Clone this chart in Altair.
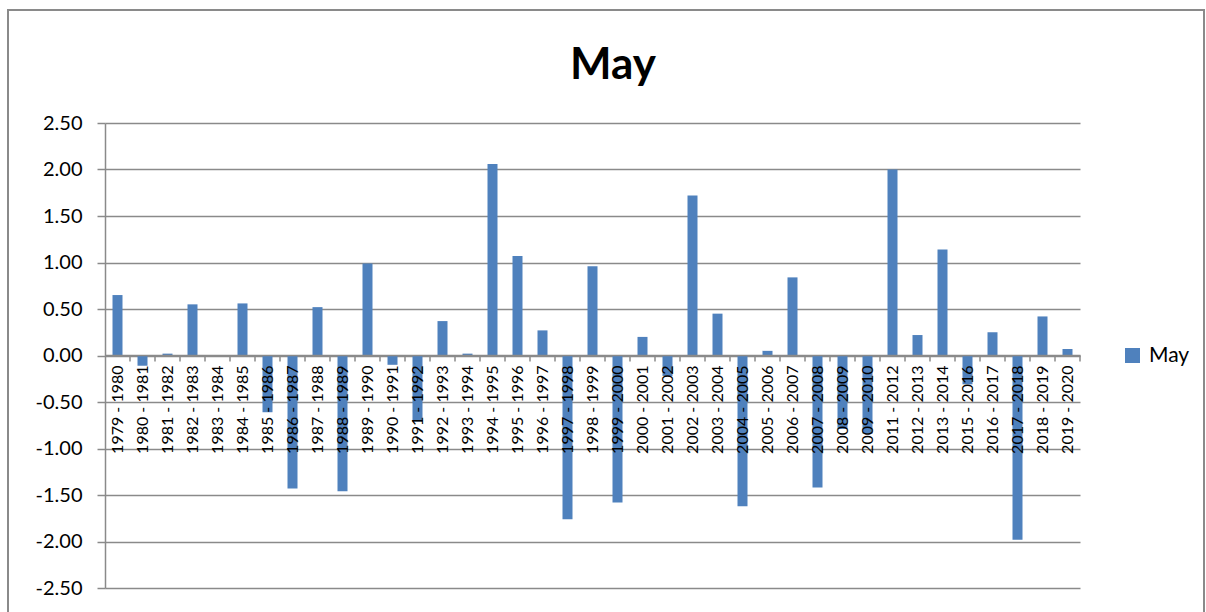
import altair as alt
import pandas as pd

# Season labels (2010-2011 and 2014-2015 are absent from the series)
periods = [
    "1979 - 1980", "1980 - 1981", "1981 - 1982", "1982 - 1983", "1983 - 1984",
    "1984 - 1985", "1985 - 1986", "1986 - 1987", "1987 - 1988", "1988 - 1989",
    "1989 - 1990", "1990 - 1991", "1991 - 1992", "1992 - 1993", "1993 - 1994",
    "1994 - 1995", "1995 - 1996", "1996 - 1997", "1997 - 1998", "1998 - 1999",
    "1999 - 2000", "2000 - 2001", "2001 - 2002", "2002 - 2003", "2003 - 2004",
    "2004 - 2005", "2005 - 2006", "2006 - 2007", "2007 - 2008", "2008 - 2009",
    "2009 - 2010", "2011 - 2012", "2012 - 2013", "2013 - 2014", "2015 - 2016",
    "2016 - 2017", "2017 - 2018", "2018 - 2019", "2019 - 2020",
]

may_values = [
    0.65, -0.11, 0.02, 0.55, 0.00,
    0.56, -0.61, -1.43, 0.52, -1.46,
    0.99, -0.10, -0.71, 0.37, 0.02,
    2.06, 1.07, 0.27, -1.76, 0.96,
    -1.58, 0.20, -0.22, 1.72, 0.45,
    -1.62, 0.05, 0.84, -1.42, -0.79,
    -0.84, 2.00, 0.22, 1.14, -0.31,
    0.25, -1.98, 0.42, 0.07,
]

y_ticks = [-2.5, -2.0, -1.5, -1.0, -0.5, 0.0, 0.5, 1.0, 1.5, 2.0, 2.5]

chart_title = ["May"]

df = pd.DataFrame({"period": periods, "value": may_values, "series": "May"})
title_df = pd.DataFrame({"title": chart_title})

FONT = "Lato"
GRID = "#8a8a8a"
BLUE = "#4f81bd"

x_enc = alt.X(
    "period:N",
    sort=periods,
    scale=alt.Scale(paddingInner=0, paddingOuter=0),
    axis=alt.Axis(
        title=None,
        labelAngle=270,
        labelFont=FONT,
        labelFontSize=16,
        labelColor="black",
        labelPadding=10,
        labelOverlap=False,
        labelBound=False,
        ticks=False,
        domainColor=GRID,
        domainWidth=1.5,
        offset=-233,
        zindex=1,
    ),
)

y_scale = alt.Scale(domain=[-2.5, 2.5], nice=False, zero=False)

bars = alt.Chart(df).mark_bar(size=10).encode(
    x=x_enc,
    y=alt.Y(
        "value:Q",
        scale=y_scale,
        axis=alt.Axis(
            title=None,
            values=y_ticks,
            format=".2f",
            labelExpr="replace(datum.label, '\u2212', '-')",
            labelFont=FONT,
            labelFontSize=20,
            labelColor="black",
            labelPadding=15,
            tickSize=8,
            tickColor=GRID,
            tickWidth=1.5,
            domainColor=GRID,
            domainWidth=1.5,
            gridColor=GRID,
            gridWidth=1.5,
            gridOpacity=1,
        ),
    ),
    color=alt.Color(
        "series:N",
        scale=alt.Scale(range=[BLUE]),
        legend=alt.Legend(
            title=None,
            orient="none",
            legendX=1017,
            legendY=222,
            symbolType="square",
            symbolSize=225,
            symbolStrokeWidth=0,
            labelFont=FONT,
            labelFontSize=21,
            labelColor="black",
            labelOffset=6,
            padding=0,
        ),
    ),
)

# tick marks on the zero line, at the boundaries between categories
ticks = alt.Chart(df).mark_rule(color=GRID, strokeWidth=1.5).encode(
    x=alt.X("period:N", sort=periods, bandPosition=1),
    y=alt.datum(0, scale=y_scale),
    y2=alt.datum(-0.065),
)

# outer chart-area frame
frame = alt.Chart(df).mark_rect(fill=None, stroke=GRID, strokeWidth=1.5).encode(
    x=alt.value(-97),
    x2=alt.value(1099),
    y=alt.value(-113),
    y2=alt.value(510),
)

# chart heading, centred over the whole chart area
heading = alt.Chart(title_df).mark_text(
    font=FONT,
    fontSize=44,
    fontWeight="bold",
    color="black",
    align="center",
    baseline="alphabetic",
).encode(
    text="title:N",
    x=alt.value(508),
    y=alt.value(-44),
)

chart = (
    alt.layer(frame, bars, ticks, heading)
    .properties(
        width=975,
        height=465,
        autosize="none",
        padding={"left": 105, "top": 123, "right": 126, "bottom": 24},
    )
    .configure_view(stroke=None)
)

chart.save("out.html", embed_options={"renderer": "svg", "actions": False})
